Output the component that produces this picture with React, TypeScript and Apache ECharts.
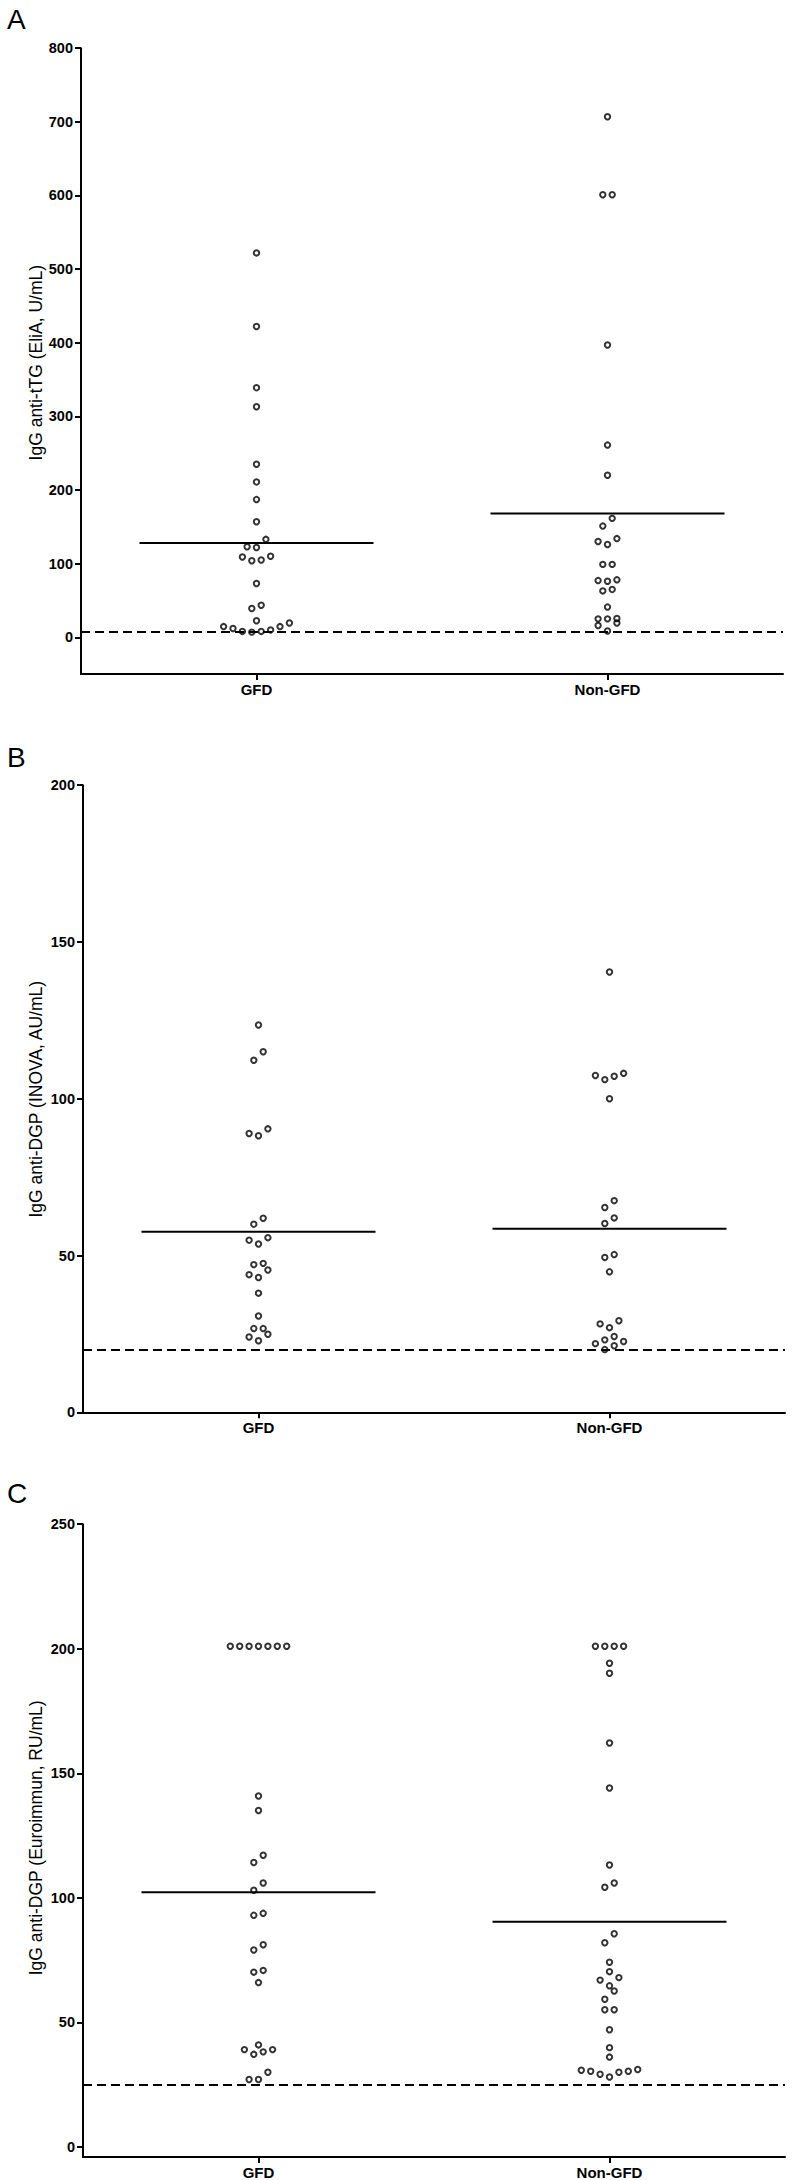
import React, { useEffect, useRef } from "react";
import * as echarts from "echarts";

// ---------- data ----------
const categories = ["GFD", "Non-GFD"];

// Panel A: IgG anti-tTG (EliA, U/mL)
const ttgGFD = [522, 422, 339, 313, 235, 211, 187, 157, 133, 123, 122, 110, 109, 105, 104, 73, 43.5, 39, 22.5, 19.5, 14.5, 14.5, 12, 10, 8, 8, 7];
const ttgNonGFD = [707, 601, 601, 397, 261, 220, 161.5, 151, 134, 130, 126, 99, 99, 78, 77, 76, 65, 63, 41, 25.5, 25, 25, 19.4, 16, 8.5];
const ttgMeans = [128, 168];
const ttgCutoff = 8;
const ttgTicks = [0, 100, 200, 300, 400, 500, 600, 700, 800];

// Panel B: IgG anti-DGP (INOVA, AU/mL)
const inovaGFD = [123.5, 115, 112.3, 90.4, 88.9, 88.2, 61.9, 60, 55.7, 54.9, 53.7, 47.5, 47.1, 45.4, 43.9, 43, 38, 30.7, 26.7, 26.7, 24.9, 24, 22.8];
const inovaNonGFD = [140.4, 108.1, 107.4, 107.2, 106.1, 100, 67.5, 65.3, 62, 60.2, 50.3, 49.4, 44.8, 29.2, 28.2, 27, 24.2, 23.1, 22.6, 21.9, 21.2, 20];
const inovaMeans = [57.6, 58.5];
const inovaCutoff = 20;
const inovaTicks = [0, 50, 100, 150, 200];

// Panel C: IgG anti-DGP (Euroimmun, RU/mL)
const euroGFD = [201, 201, 201, 201, 201, 201, 201, 140.9, 135.1, 117.1, 114.2, 106, 103.1, 93.8, 93, 81.2, 79.1, 70.9, 70.2, 66, 41, 39.1, 39.1, 38.2, 37.2, 30, 27.1, 27.1];
const euroNonGFD = [201, 201, 201, 201, 194.2, 190.2, 162.2, 144.1, 113.2, 106, 104.3, 85.6, 82, 74.2, 70.4, 68, 67, 64.7, 62.6, 59.3, 55.1, 55.1, 47.1, 39.9, 36.1, 31.1, 30.8, 30.4, 30.4, 30, 29.2, 28.1];
const euroMeans = [102.3, 90.4];
const euroCutoff = 25;
const euroTicks = [0, 50, 100, 150, 200, 250];

// ---------- layout ----------
const FONT = '"Liberation Sans", Arial, Helvetica, sans-serif';
const GRID_W = 702;
const ROW_PX = 9.4;
const STEP_PX = 9.4;
const MEAN_HALF = 1 / 3;

const panels = [
  { letter: "A", title: "IgG anti-tTG (EliA, U/mL)", groups: [ttgGFD, ttgNonGFD], means: ttgMeans, cutoff: ttgCutoff, ticks: ttgTicks, min: -50, max: 800, left: 81, top: 48.2, height: 625.9, letterY: 19, titleY: 362.7 },
  { letter: "B", title: "IgG anti-DGP (INOVA, AU/mL)", groups: [inovaGFD, inovaNonGFD], means: inovaMeans, cutoff: inovaCutoff, ticks: inovaTicks, min: 0, max: 200, left: 83, top: 785.2, height: 627.1, letterY: 757, titleY: 1099.2 },
  { letter: "C", title: "IgG anti-DGP (Euroimmun, RU/mL)", groups: [euroGFD, euroNonGFD], means: euroMeans, cutoff: euroCutoff, ticks: euroTicks, min: -4, max: 250, left: 83, top: 1524.2, height: 637.6, letterY: 1493.4, titleY: 1837.8 },
];

function swarm(values: number[], center: number, pxPerUnit: number, unitPerPx: number) {
  const sorted = [...values].sort((a, b) => a - b);
  const rows: number[][] = [];
  for (const v of sorted) {
    const last = rows[rows.length - 1];
    if (last && (v - last[0]) * pxPerUnit < ROW_PX) last.push(v);
    else rows.push([v]);
  }
  const pts: number[][] = [];
  for (const row of rows) {
    const n = row.length;
    row.forEach((v, i) => {
      let slot: number;
      if (n % 2 === 1) slot = i === 0 ? 0 : (i % 2 === 1 ? -1 : 1) * Math.ceil(i / 2);
      else slot = (i % 2 === 0 ? -1 : 1) * (Math.floor(i / 2) + 0.5);
      pts.push([center + slot * STEP_PX * unitPerPx, v]);
    });
  }
  return pts;
}

function buildOption() {
  const grid: any[] = [];
  const xAxis: any[] = [];
  const yAxis: any[] = [];
  const series: any[] = [];
  const graphic: any[] = [];
  const axisLineStyle = { color: "#000", width: 2 };

  panels.forEach((p, i) => {
    grid.push({ left: p.left, top: p.top, width: GRID_W, height: p.height, containLabel: false });
    xAxis.push({
      gridIndex: i,
      type: "category",
      data: categories,
      boundaryGap: true,
      position: "bottom",
      axisLine: { show: true, onZero: false, lineStyle: axisLineStyle },
      axisTick: { show: true, alignWithLabel: true, length: 6, lineStyle: axisLineStyle },
      axisLabel: { color: "#000", fontWeight: "bold", fontSize: 15, fontFamily: FONT, margin: 8 },
      splitLine: { show: false },
    });
    xAxis.push({
      gridIndex: i,
      type: "value",
      min: 0,
      max: 2,
      position: "top",
      show: false,
      splitLine: { show: false },
    });
    yAxis.push({
      gridIndex: i,
      type: "value",
      min: p.min,
      max: p.max,
      axisLine: { show: true, onZero: false, lineStyle: axisLineStyle },
      axisTick: { show: true, length: 6, customValues: p.ticks, lineStyle: axisLineStyle },
      axisLabel: { customValues: p.ticks, color: "#000", fontWeight: "bold", fontSize: 14.5, fontFamily: FONT, margin: 8 },
      splitLine: { show: false },
    });

    const pxPerUnit = p.height / (p.max - p.min);
    const unitPerPx = 2 / GRID_W;

    p.groups.forEach((vals, g) => {
      const center = g + 0.5;
      series.push({
        type: "scatter",
        xAxisIndex: 2 * i + 1,
        yAxisIndex: i,
        symbol: "circle",
        symbolSize: 5.4,
        itemStyle: { color: "rgba(0,0,0,0)", borderColor: "#000", borderWidth: 2 },
        data: swarm(vals, center, pxPerUnit, unitPerPx),
        z: 3,
        markLine: g === 0 ? {
          silent: true,
          symbol: ["none", "none"],
          label: { show: false },
          lineStyle: { color: "#000", width: 2, type: [9, 5] },
          data: [{ yAxis: p.cutoff }],
        } : undefined,
      });
      series.push({
        type: "line",
        xAxisIndex: 2 * i + 1,
        yAxisIndex: i,
        symbol: "none",
        lineStyle: { color: "#000", width: 2 },
        data: [[center - MEAN_HALF, p.means[g]], [center + MEAN_HALF, p.means[g]]],
        z: 2,
      });
    });

    graphic.push({
      type: "text",
      x: 7,
      y: p.letterY,
      style: { text: p.letter, fill: "#000", font: `28px ${FONT}`, textAlign: "left", textVerticalAlign: "middle" },
    });
    graphic.push({
      type: "text",
      x: 35.5,
      y: p.titleY,
      rotation: Math.PI / 2,
      style: { text: p.title, fill: "#000", font: `17.5px ${FONT}`, textAlign: "center", textVerticalAlign: "middle" },
    });
  });

  return {
    animation: false,
    backgroundColor: "#fff",
    grid,
    xAxis,
    yAxis,
    series,
    graphic,
  };
}

export default function App() {
  const ref = useRef<HTMLDivElement>(null);
  useEffect(() => {
    if (!ref.current) return;
    const chart = echarts.init(ref.current, null, { renderer: "svg" });
    chart.setOption(buildOption() as any);
    return () => chart.dispose();
  }, []);
  return (
    <div
      ref={ref}
      style={{ position: "absolute", left: 0, top: 0, width: 793, height: 2180, background: "#fff" }}
    />
  );
}
